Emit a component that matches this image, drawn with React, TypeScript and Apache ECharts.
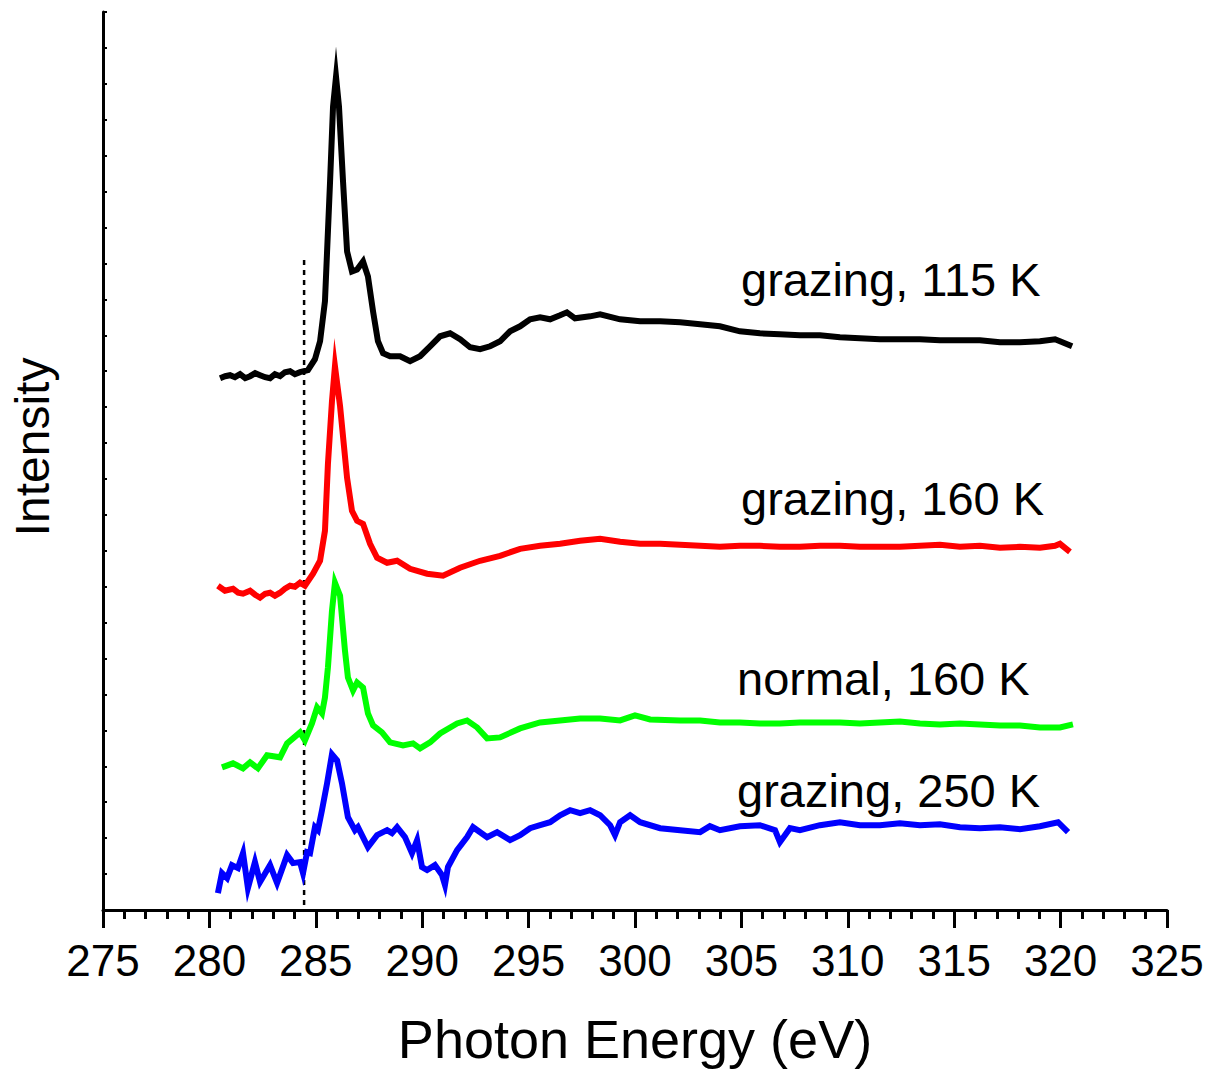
import React, { useEffect, useRef } from "react";
import * as echarts from "echarts";

// Photon energy (eV) / intensity (arb. units) pairs
const grazing115: [number, number][] = [
  [280.5, 533], [280.74, 535], [280.97, 536], [281.2, 534], [281.44, 537], [281.68, 533], [281.91, 535],
  [282.15, 538], [282.38, 536], [282.62, 534], [282.85, 533], [283.08, 537], [283.32, 535], [283.55, 539],
  [283.79, 540], [284.02, 537], [284.26, 539], [284.63, 541], [284.96, 552], [285.2, 570],
  [285.43, 610], [285.67, 730], [285.81, 805], [285.95, 835], [286.09, 805], [286.28, 730],
  [286.47, 660], [286.7, 640], [286.94, 642], [287.22, 650], [287.45, 635], [287.69, 600],
  [287.92, 570], [288.16, 558], [288.49, 555], [288.96, 555], [289.43, 550], [289.9, 555],
  [290.37, 565], [290.84, 575], [291.31, 578], [291.78, 572], [292.25, 564], [292.72, 562],
  [293.19, 565], [293.66, 570], [294.13, 580], [294.6, 585], [295.07, 592], [295.54, 594],
  [296.01, 592], [296.48, 596], [296.8, 599], [297.18, 593], [297.89, 595], [298.36, 597],
  [299.3, 592], [300.24, 590], [301.18, 590], [302.12, 589], [303.06, 587], [303.99, 585],
  [304.93, 580], [305.87, 578], [306.81, 577], [307.75, 576], [308.69, 576], [309.63, 574],
  [310.57, 573], [311.51, 572], [312.45, 572], [313.39, 572], [314.33, 571], [315.27, 571],
  [316.21, 571], [317.15, 569], [318.09, 569], [319.03, 570], [319.74, 572], [319.97, 570],
  [320.54, 565],
];

const grazing160: [number, number][] = [
  [280.4, 325], [280.73, 320], [281.11, 322], [281.35, 318], [281.58, 317], [281.91, 320], [282.15, 316],
  [282.38, 313], [282.62, 317], [282.85, 318], [283.08, 315], [283.32, 318], [283.55, 322], [283.79, 325],
  [284.02, 324], [284.26, 328], [284.49, 325], [284.87, 337],
  [285.2, 350], [285.43, 380], [285.57, 447], [285.76, 510], [285.9, 545], [286.14, 505],
  [286.47, 433], [286.7, 400], [286.94, 390], [287.22, 387], [287.55, 367], [287.88, 353],
  [288.35, 348], [288.82, 350], [289.43, 342], [290.23, 337], [290.98, 335], [291.78, 343],
  [292.72, 350], [293.66, 355], [294.6, 362], [295.54, 365], [296.48, 367], [297.42, 370],
  [298.36, 372], [299.3, 369], [300.24, 367], [301.18, 367], [302.12, 366], [303.06, 365],
  [303.99, 364], [304.93, 365], [305.87, 365], [306.81, 364], [307.75, 364], [308.69, 365],
  [309.63, 365], [310.57, 364], [311.51, 364], [312.45, 364], [313.39, 365], [314.33, 366],
  [315.27, 364], [316.21, 365], [317.15, 363], [318.09, 364], [319.03, 363], [319.74, 365],
  [319.97, 367], [320.44, 359],
];

const normal160: [number, number][] = [
  [280.59, 143], [281.11, 147], [281.58, 142], [281.91, 148], [282.28, 142], [282.71, 155],
  [283.32, 153], [283.65, 167], [284.26, 178], [284.49, 170], [284.82, 187], [285.06, 203],
  [285.29, 197], [285.43, 213], [285.57, 243], [285.76, 300], [285.9, 328], [286.14, 315],
  [286.37, 260], [286.51, 233], [286.75, 220], [286.94, 228], [287.22, 223], [287.45, 197],
  [287.69, 185], [288.11, 178], [288.49, 168], [289.1, 165], [289.57, 167], [289.9, 162],
  [290.37, 168], [290.84, 177], [291.64, 187], [292.11, 190], [292.58, 183], [293.05, 172],
  [293.66, 173], [294.6, 182], [295.54, 188], [296.48, 190], [297.42, 192], [298.36, 192],
  [299.3, 190], [300.0, 195], [300.71, 191], [302.12, 190], [303.06, 190], [303.99, 188],
  [304.93, 188], [305.87, 187], [306.81, 187], [307.75, 188], [308.69, 188], [309.63, 188],
  [310.57, 187], [311.51, 188], [312.45, 189], [313.39, 187], [314.33, 186], [315.27, 187],
  [316.21, 186], [317.15, 185], [318.09, 185], [319.03, 183], [319.97, 183], [320.58, 186],
];

const grazing250: [number, number][] = [
  [280.4, 17], [280.59, 37], [280.83, 32], [281.06, 45], [281.34, 42], [281.58, 57],
  [281.81, 22], [282.14, 48], [282.38, 28], [282.85, 45], [283.18, 27], [283.65, 55],
  [283.93, 47], [284.26, 48], [284.4, 37], [284.59, 58], [284.73, 57], [284.96, 83],
  [285.1, 80], [285.29, 100], [285.53, 127], [285.76, 156], [286.0, 150], [286.23, 127],
  [286.51, 93], [286.84, 80], [286.98, 83], [287.45, 63], [287.88, 75], [288.35, 80],
  [288.58, 77], [288.82, 83], [289.19, 73], [289.52, 57], [289.76, 70], [289.99, 43],
  [290.23, 40], [290.6, 45], [290.93, 35], [291.07, 25], [291.21, 43], [291.64, 60],
  [292.11, 73], [292.39, 83], [293.05, 73], [293.52, 78], [294.13, 70], [294.6, 75],
  [295.07, 82], [295.54, 85], [296.01, 88], [296.48, 95], [296.95, 100], [297.42, 97],
  [297.89, 100], [298.36, 95], [298.83, 85], [299.06, 75], [299.3, 88], [299.77, 95],
  [300.24, 88], [301.18, 82], [302.12, 80], [303.06, 78], [303.52, 84], [303.99, 80],
  [304.93, 84], [305.87, 85], [306.58, 80], [306.81, 68], [307.28, 82], [307.75, 80],
  [308.69, 85], [309.63, 88], [310.57, 85], [311.51, 85], [312.45, 87], [313.39, 85],
  [314.33, 86], [315.27, 83], [316.21, 82], [317.15, 83], [318.09, 81], [319.03, 84],
  [319.88, 88], [320.35, 78],
];

const edgeLine: [number, number][] = [
  [284.45, 5], [284.45, 655],
];

const seriesNames = ["grazing, 115 K", "grazing, 160 K", "normal, 160 K", "grazing, 250 K"];
const seriesColors = ["#000000", "#ff0000", "#00ff00", "#0000ff"];

const FONT = "'Liberation Sans', Arial, Helvetica, sans-serif";

export default function App() {
  const ref = useRef<HTMLDivElement>(null);

  useEffect(() => {
    document.body.style.margin = "0";
    if (!ref.current) return;
    const chart = echarts.init(ref.current, null, { renderer: "svg" });
    const datasets = [grazing115, grazing160, normal160, grazing250];

    chart.setOption({
      animation: false,
      backgroundColor: "#ffffff",
      grid: { left: 103, right: 42, top: 12, bottom: 161, containLabel: false },
      xAxis: {
        type: "value",
        min: 275,
        max: 325,
        interval: 5,
        name: "Photon Energy (eV)",
        nameLocation: "middle",
        nameGap: 102,
        nameTextStyle: { fontFamily: FONT, fontSize: 54, color: "#000" },
        axisLine: { show: true, lineStyle: { color: "#000", width: 3 } },
        axisTick: { show: true, inside: false, length: 18, lineStyle: { color: "#000", width: 3 } },
        minorTick: { show: true, splitNumber: 5, length: 9, lineStyle: { color: "#000", width: 3 } },
        axisLabel: { fontFamily: FONT, fontSize: 44, color: "#000", margin: 28 },
        splitLine: { show: false },
        minorSplitLine: { show: false },
      },
      yAxis: {
        type: "value",
        min: 0,
        max: 900,
        interval: 36,
        axisLine: { show: true, lineStyle: { color: "#000", width: 3 } },
        axisTick: { show: true, inside: true, length: 4, lineStyle: { color: "#000", width: 2 } },
        axisLabel: { show: false },
        splitLine: { show: false },
      },
      graphic: [
        {
          type: "text",
          x: 32,
          y: 447,
          rotation: Math.PI / 2,
          style: {
            text: "Intensity",
            fontFamily: FONT,
            fontSize: 48,
            fill: "#000",
            align: "center",
            verticalAlign: "middle",
          },
        },
        { type: "text", x: 741, y: 279, style: { text: seriesNames[0], fontFamily: FONT, fontSize: 47, fill: "#000", align: "left", verticalAlign: "middle" } },
        { type: "text", x: 741, y: 498, style: { text: seriesNames[1], fontFamily: FONT, fontSize: 47, fill: "#000", align: "left", verticalAlign: "middle" } },
        { type: "text", x: 737, y: 678, style: { text: seriesNames[2], fontFamily: FONT, fontSize: 47, fill: "#000", align: "left", verticalAlign: "middle" } },
        { type: "text", x: 737, y: 790, style: { text: seriesNames[3], fontFamily: FONT, fontSize: 47, fill: "#000", align: "left", verticalAlign: "middle" } },
      ],
      series: [
        {
          type: "line",
          name: "edge",
          data: edgeLine,
          showSymbol: false,
          symbol: "none",
          lineStyle: { color: "#000", width: 2.5, type: [5, 5] },
          z: 1,
        },
        ...datasets.map((d, i) => ({
          type: "line",
          name: seriesNames[i],
          data: d,
          showSymbol: false,
          symbol: "none",
          lineStyle: { color: seriesColors[i], width: 6, join: "miter", miterLimit: 20 },
          z: 2 + i,
        })),
      ],
    });

    return () => chart.dispose();
  }, []);

  return <div ref={ref} style={{ width: 1209, height: 1071 }} />;
}
